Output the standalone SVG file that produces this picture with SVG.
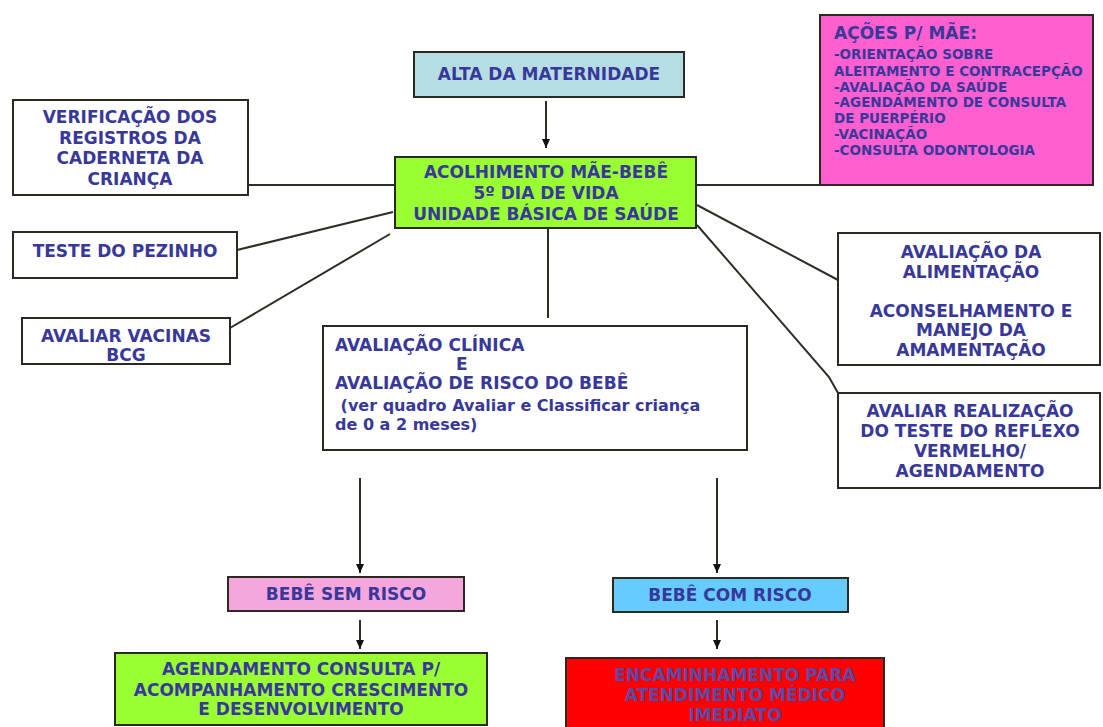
<svg xmlns="http://www.w3.org/2000/svg" width="1103" height="727" viewBox="0 0 1103 727">
<defs>
<marker id="arr" markerWidth="10" markerHeight="10" refX="9" refY="5" orient="auto" markerUnits="userSpaceOnUse">
<path d="M0,1 L9,5 L0,9 Z" fill="#111"/>
</marker>
<style>
.box{stroke:#2a2a20;stroke-width:2}
.t{font-family:"DejaVu Sans","Verdana",sans-serif;font-weight:bold;font-size:17px;fill:#38389a}
.c{text-anchor:middle}
.s{font-size:13.5px}
.l{font-size:16px}
.r{fill:#5a4aa8}
.ln{stroke:#2e2e24;stroke-width:2;fill:none}
</style>
</defs>
<rect width="1103" height="727" fill="#ffffff"/>
<g id="connectors">
<line class="ln" x1="546" y1="101" x2="546" y2="148" marker-end="url(#arr)"/>
<line class="ln" x1="248" y1="185" x2="395" y2="185"/>
<line class="ln" x1="237" y1="250" x2="393" y2="212"/>
<line class="ln" x1="230" y1="328" x2="390" y2="234"/>
<line class="ln" x1="548" y1="228" x2="548" y2="318"/>
<line class="ln" x1="697" y1="185" x2="820" y2="185"/>
<line class="ln" x1="697" y1="205" x2="838" y2="280"/>
<polyline class="ln" points="697,225 829,377 838,393"/>
<line class="ln" x1="360" y1="478" x2="360" y2="573" marker-end="url(#arr)"/>
<line class="ln" x1="717" y1="478" x2="717" y2="573" marker-end="url(#arr)"/>
<line class="ln" x1="360" y1="620" x2="360" y2="649" marker-end="url(#arr)"/>
<line class="ln" x1="717" y1="620" x2="717" y2="649" marker-end="url(#arr)"/>
</g>
<g id="alta">
<rect class="box" x="414" y="52" width="270" height="45" fill="#b6dde4"/>
<text class="t c" x="549" y="80">ALTA DA MATERNIDADE</text>
</g>
<g id="acolhimento">
<rect class="box" x="395" y="157" width="301" height="71" fill="#99ff33"/>
<text class="t c" x="546" y="178">ACOLHIMENTO MÃE-BEBÊ</text>
<text class="t c" x="546" y="199">5º DIA DE VIDA</text>
<text class="t c" x="546" y="220">UNIDADE BÁSICA DE SAÚDE</text>
</g>
<g id="acoes-mae">
<rect class="box" x="820" y="15" width="273" height="170" fill="#ff5fcf"/>
<text class="t" x="834" y="39">AÇÕES P/ MÃE:</text>
<text class="t s" x="834" y="59">-ORIENTAÇÃO SOBRE</text>
<text class="t s" x="834" y="76">ALEITAMENTO E CONTRACEPÇÃO</text>
<text class="t s" x="834" y="92">-AVALIAÇÃO DA SAÚDE</text>
<text class="t s" x="834" y="107">-AGENDAMENTO DE CONSULTA</text>
<text class="t s" x="834" y="123">DE PUERPÉRIO</text>
<text class="t s" x="834" y="139">-VACINAÇÃO</text>
<text class="t s" x="834" y="155">-CONSULTA ODONTOLOGIA</text>
</g>
<g id="verificacao">
<rect class="box" x="13" y="100" width="235" height="95" fill="#ffffff"/>
<text class="t c" x="130" y="123">VERIFICAÇÃO DOS</text>
<text class="t c" x="130" y="144">REGISTROS DA</text>
<text class="t c" x="130" y="164">CADERNETA DA</text>
<text class="t c" x="130" y="185">CRIANÇA</text>
</g>
<g id="pezinho">
<rect class="box" x="13" y="232" width="224" height="46" fill="#ffffff"/>
<text class="t c" x="125" y="257">TESTE DO PEZINHO</text>
</g>
<g id="vacinas">
<rect class="box" x="22" y="318" width="208" height="46" fill="#ffffff"/>
<text class="t c" x="126" y="342">AVALIAR VACINAS</text>
<text class="t c" x="126" y="361">BCG</text>
</g>
<g id="clinica">
<rect class="box" x="323" y="326" width="424" height="124" fill="#ffffff"/>
<text class="t" x="335" y="351">AVALIAÇÃO CLÍNICA</text>
<text class="t" x="456" y="370">E</text>
<text class="t" x="335" y="389">AVALIAÇÃO DE RISCO DO BEBÊ</text>
<text class="t l" x="335" y="411" xml:space="preserve"> (ver quadro Avaliar e Classificar criança</text>
<text class="t l" x="335" y="430">de 0 a 2 meses)</text>
</g>
<g id="alimentacao">
<rect class="box" x="838" y="233" width="262" height="132" fill="#ffffff"/>
<text class="t c" x="971" y="258">AVALIAÇÃO DA</text>
<text class="t c" x="971" y="278">ALIMENTAÇÃO</text>
<text class="t c" x="971" y="317">ACONSELHAMENTO E</text>
<text class="t c" x="971" y="336">MANEJO DA</text>
<text class="t c" x="971" y="356">AMAMENTAÇÃO</text>
</g>
<g id="reflexo">
<rect class="box" x="838" y="393" width="262" height="95" fill="#ffffff"/>
<text class="t c" x="970" y="417">AVALIAR REALIZAÇÃO</text>
<text class="t c" x="970" y="437">DO TESTE DO REFLEXO</text>
<text class="t c" x="970" y="457">VERMELHO/</text>
<text class="t c" x="970" y="477">AGENDAMENTO</text>
</g>
<g id="sem-risco">
<rect class="box" x="228" y="577" width="236" height="34" fill="#f4a6dd"/>
<text class="t c" x="346" y="600">BEBÊ SEM RISCO</text>
</g>
<g id="com-risco">
<rect class="box" x="613" y="578" width="235" height="34" fill="#66ccff"/>
<text class="t c" x="730" y="601">BEBÊ COM RISCO</text>
</g>
<g id="agendamento">
<rect class="box" x="115" y="653" width="372" height="72" fill="#99ff33"/>
<text class="t c" x="301" y="675">AGENDAMENTO CONSULTA P/</text>
<text class="t c" x="301" y="696">ACOMPANHAMENTO CRESCIMENTO</text>
<text class="t c" x="301" y="715">E DESENVOLVIMENTO</text>
</g>
<g id="encaminhamento">
<rect class="box" x="566" y="658" width="318" height="80" fill="#ff0000"/>
<text class="t c r" x="735" y="681">ENCAMINHAMENTO PARA</text>
<text class="t c r" x="735" y="701">ATENDIMENTO MÉDICO</text>
<text class="t c r" x="735" y="721">IMEDIATO</text>
</g>
</svg>
